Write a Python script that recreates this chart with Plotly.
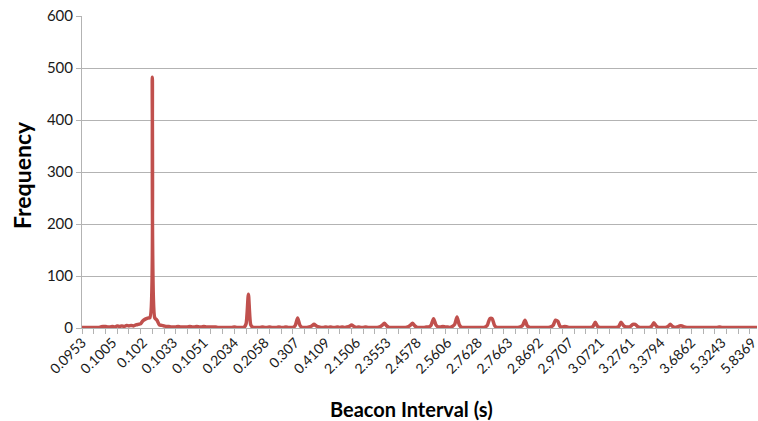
import plotly.graph_objects as go

# Frequency per beacon-interval category (index order)
freq = [
    1, 1, 1, 1, 1, 1, 1, 1, 2, 3,
    3, 2, 2, 3, 2, 4, 3, 4, 3, 5,
    4, 5, 4, 6, 7, 8, 14, 17, 19, 20,
    482, 20, 15, 6, 5, 4, 3, 3, 2, 2,
    2, 3, 2, 2, 2, 2, 3, 2, 2, 3,
    2, 2, 3, 2, 2, 2, 2, 2, 1, 1,
    1, 1, 1, 1, 1, 2, 1, 1, 1, 1,
    8, 65, 6, 1, 1, 1, 1, 2, 1, 1,
    2, 1, 1, 1, 2, 1, 1, 2, 1, 1,
    1, 5, 19, 5, 1, 1, 1, 2, 4, 7,
    4, 2, 1, 1, 2, 1, 2, 1, 1, 2,
    1, 2, 1, 2, 3, 6, 3, 1, 2, 1,
    1, 2, 1, 1, 1, 1, 1, 2, 5, 9,
    4, 1, 1, 1, 1, 1, 1, 1, 1, 2,
    5, 9, 4, 1, 1, 1, 1, 2, 2, 6,
    18, 6, 2, 2, 3, 2, 2, 1, 3, 7,
    21, 6, 1, 1, 1, 1, 1, 1, 1, 1,
    1, 1, 2, 6, 18, 18, 5, 1, 1, 1,
    1, 1, 1, 1, 1, 1, 1, 2, 5, 15,
    4, 1, 1, 1, 1, 1, 1, 1, 1, 1,
    2, 5, 15, 13, 3, 2, 3, 2, 1, 1,
    1, 1, 1, 1, 1, 1, 1, 1, 3, 11,
    3, 1, 1, 1, 1, 1, 1, 1, 1, 3,
    11, 5, 2, 2, 3, 7, 7, 3, 1, 1,
    1, 1, 1, 3, 10, 4, 1, 1, 1, 1,
    3, 7, 3, 1, 2, 4, 4, 2, 1, 1,
    1, 1, 1, 1, 1, 1, 1, 1, 1, 1,
    1, 1, 2, 1, 1, 1, 1, 1, 1, 1,
    1, 1, 1, 1, 1, 1, 1, 1, 1,
]

# Category labels shown on the x axis (every 13th category)
tick_labels = ["0.0953", "0.1005", "0.102", "0.1033", "0.1051", "0.2034",
               "0.2058", "0.307", "0.4109", "2.1506", "2.3553", "2.4578",
               "2.5606", "2.7628", "2.7663", "2.8692", "2.9707", "3.0721",
               "3.2761", "3.3794", "3.6862", "5.3243", "5.8369"]
label_step = 13

x_idx = list(range(len(freq)))
tick_pos = [i * label_step for i in range(len(tick_labels))]

FONT = "Lato"
GRID = "#b3b3b3"

fig = go.Figure()
fig.add_trace(go.Scatter(
    x=x_idx, y=freq, mode="lines",
    line=dict(color="#C0504D", width=3.5, shape="spline", smoothing=0.6),
    hoverinfo="skip", showlegend=False, cliponaxis=False,
))

fig.update_layout(
    width=758, height=421,
    margin=dict(l=82, r=1, t=16, b=93, autoexpand=False),
    paper_bgcolor="white", plot_bgcolor="white",
    font=dict(family=FONT, color="#1a1a1a", size=14),
    xaxis=dict(
        range=[0, len(freq) - 1], automargin=False,
        tickmode="array", tickvals=tick_pos, ticktext=tick_labels,
        tickangle=-45, ticks="", showgrid=False, zeroline=False,
        showline=True, linecolor=GRID, linewidth=1,
        ticklabeloverflow="allow",
        tickfont=dict(family=FONT, size=14, color="#1a1a1a"),
        minor=dict(ticks="outside", tick0=0, dtick=5, ticklen=5,
                   tickcolor=GRID, showgrid=False),
    ),
    yaxis=dict(
        range=[0, 600], dtick=100, tick0=0, automargin=False,
        showgrid=True, gridcolor=GRID, gridwidth=1,
        zeroline=False, showline=True, linecolor=GRID, linewidth=1,
        ticks="outside", ticklen=5, tickcolor=GRID,
        tickfont=dict(family=FONT, size=15, color="#1a1a1a"),
    ),
    annotations=[
        dict(text="<b>Frequency</b>", xref="paper", yref="paper",
             x=(22 - 82) / 675, y=(328 - 175) / 312,
             xanchor="center", yanchor="middle", textangle=-90,
             showarrow=False, font=dict(family=FONT, size=23, color="#000")),
        dict(text="<b>Beacon Interval (s)</b>", xref="paper", yref="paper",
             x=(411 - 82) / 675, y=-(409 - 328) / 312,
             xanchor="center", yanchor="middle",
             showarrow=False, font=dict(family=FONT, size=20, color="#000")),
    ],
)

fig.write_html("out.html", config={"displayModeBar": False},
               post_script="document.body.style.margin='0';document.body.style.padding='0';")
